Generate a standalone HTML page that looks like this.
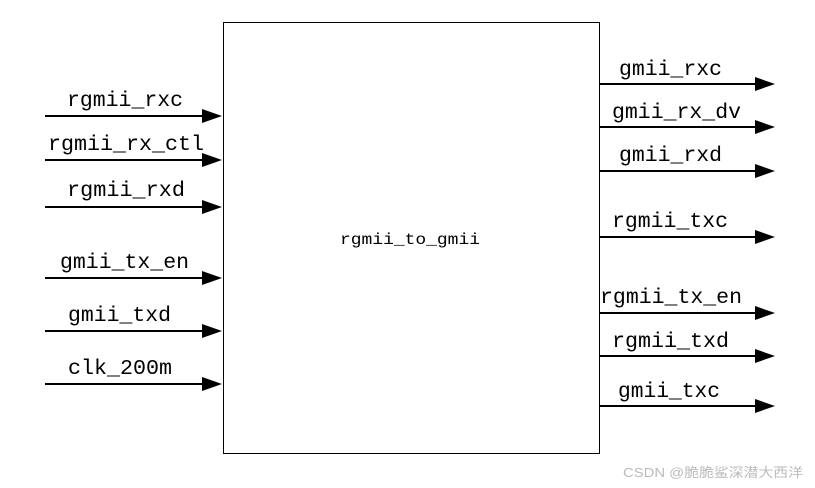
<!DOCTYPE html>
<html><head><meta charset="utf-8"><style>html,body{margin:0;padding:0;background:#fff}svg{display:block}</style></head><body>
<svg width="815" height="488" viewBox="0 0 815 488" xmlns="http://www.w3.org/2000/svg" font-family="'Liberation Mono', monospace" font-size="21">
<rect x="223.5" y="22.5" width="376" height="431" fill="#fff" stroke="#000" stroke-width="1"/>
<g stroke="#000" stroke-width="2">
<line x1="45" y1="116" x2="205" y2="116"/><line x1="45" y1="160" x2="205" y2="160"/><line x1="45" y1="207" x2="205" y2="207"/>
<line x1="45" y1="278" x2="205" y2="278"/><line x1="45" y1="331" x2="205" y2="331"/><line x1="45" y1="384" x2="205" y2="384"/>
<line x1="599" y1="84" x2="758" y2="84"/><line x1="599" y1="127" x2="758" y2="127"/><line x1="599" y1="171" x2="758" y2="171"/>
<line x1="599" y1="237" x2="758" y2="237"/><line x1="599" y1="313" x2="758" y2="313"/><line x1="599" y1="356" x2="758" y2="356"/><line x1="599" y1="406" x2="758" y2="406"/>
</g>
<g fill="#000">
<polygon points="202,109 222,116 202,123"/><polygon points="202,153 222,160 202,167"/><polygon points="202,200 222,207 202,214"/>
<polygon points="202,271 222,278 202,285"/><polygon points="202,324 222,331 202,338"/><polygon points="202,377 222,384 202,391"/>
<polygon points="755,77 775,84 755,91"/><polygon points="755,120 775,127 755,134"/><polygon points="755,164 775,171 755,178"/>
<polygon points="755,230 775,237 755,244"/><polygon points="755,306 775,313 755,320"/><polygon points="755,349 775,356 755,363"/><polygon points="755,399 775,406 755,413"/>
</g>
<g fill="#000" lengthAdjust="spacingAndGlyphs">
<text x="67" y="106" textLength="116" lengthAdjust="spacingAndGlyphs">rgmii_rxc</text>
<text x="48" y="150" textLength="156" lengthAdjust="spacingAndGlyphs">rgmii_rx_ctl</text>
<text x="67" y="196" textLength="118" lengthAdjust="spacingAndGlyphs">rgmii_rxd</text>
<text x="60" y="268" textLength="129" lengthAdjust="spacingAndGlyphs">gmii_tx_en</text>
<text x="68" y="321" textLength="103" lengthAdjust="spacingAndGlyphs">gmii_txd</text>
<text x="68" y="374" textLength="104" lengthAdjust="spacingAndGlyphs">clk_200m</text>
<text x="619" y="75" textLength="103" lengthAdjust="spacingAndGlyphs">gmii_rxc</text>
<text x="612" y="118" textLength="129" lengthAdjust="spacingAndGlyphs">gmii_rx_dv</text>
<text x="619" y="161" textLength="103" lengthAdjust="spacingAndGlyphs">gmii_rxd</text>
<text x="612" y="227" textLength="116" lengthAdjust="spacingAndGlyphs">rgmii_txc</text>
<text x="600" y="303" textLength="142" lengthAdjust="spacingAndGlyphs">rgmii_tx_en</text>
<text x="612" y="347" textLength="117" lengthAdjust="spacingAndGlyphs">rgmii_txd</text>
<text x="618" y="397" textLength="102" lengthAdjust="spacingAndGlyphs">gmii_txc</text>
<text x="340" y="244" font-size="16" textLength="140" lengthAdjust="spacingAndGlyphs">rgmii_to_gmii</text>
</g>
<text x="623" y="477" font-family="'Liberation Sans','Noto Sans CJK SC',sans-serif" font-size="13" fill="#bbb" textLength="180" lengthAdjust="spacingAndGlyphs">CSDN @脆脆鲨深潜大西洋</text>
</svg>
</body></html>
